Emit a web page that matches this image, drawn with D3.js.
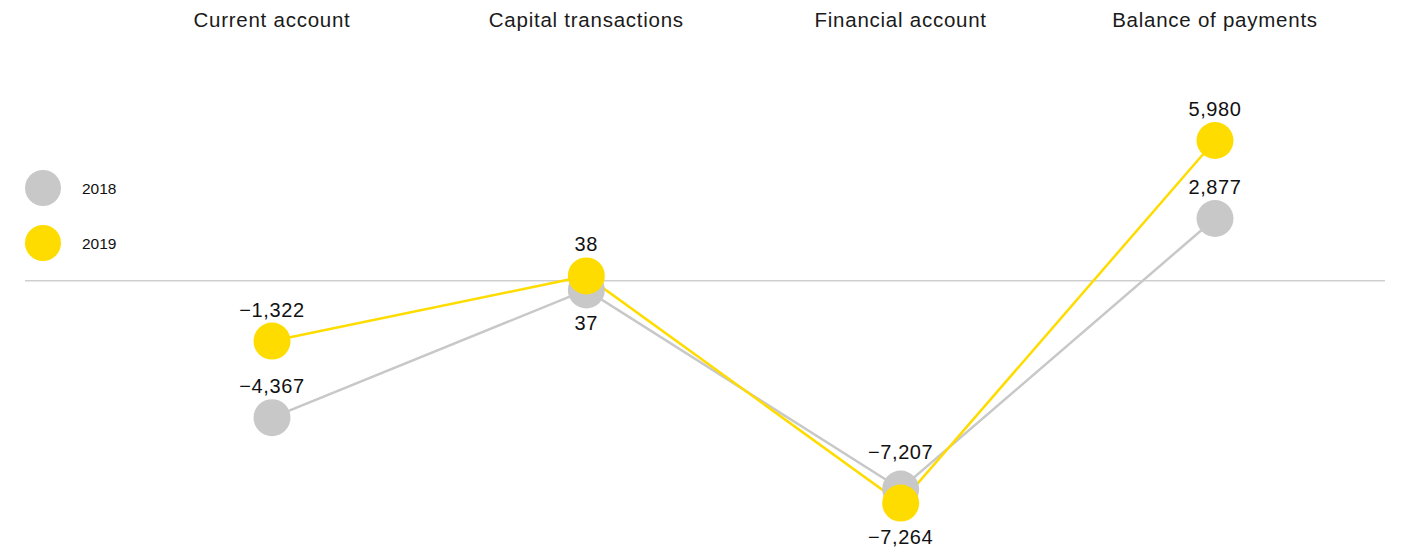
<!DOCTYPE html>
<meta charset="utf-8">

<!-- Load d3.js -->
<script src="https://d3js.org/d3.v7.min.js"></script>

<style>
  body {margin: 0; background: #fff;}
  svg {font-family: "Liberation Sans", Arial, sans-serif;}
  .header {font-size: 20.5px; fill: #1a1a1a; letter-spacing: 0.75px;}
  .value {font-size: 20px; fill: #111; letter-spacing: 0.6px;}
  .legend-label {font-size: 15.5px; fill: #111;}
</style>

<div id="my_dataviz"></div>

<script>

// data
var categories = ["Current account", "Capital transactions", "Financial account", "Balance of payments"];
var years = ["2018", "2019"];
var values2018 = [-4367, 37, -7207, 2877];
var values2019 = [-1322, 38, -7264, 5980];
var colors = ["#c8c8c8", "#ffdc00"];

var width = 1426, height = 551;
var r = 18.5;

var svg = d3.select("#my_dataviz")
  .append("svg")
    .attr("width", width)
    .attr("height", height);

// scales
var x = d3.scalePoint()
  .domain(categories)
  .range([272, 1215]);

var y = d3.scaleLinear()
  .domain([-8000, 6000])
  .range([492, 140]);

// negative values sit a bit further below the zero line
var gap = 17;
function yPos(v) { return y(v) + (v < 0 ? gap : 0); }

var fmt = d3.format(",");

// build the points for both years
var series = years.map(function(yr, k) {
  var vals = k === 0 ? values2018 : values2019;
  return vals.map(function(v, i) {
    return {cat: categories[i], year: yr, value: v, cy: yPos(v), side: "above", paired: false};
  });
});

// push the 2019 dot away when the two years overlap
var minSep = 14;
categories.forEach(function(c, i) {
  var a = series[0][i], b = series[1][i];
  if (Math.abs(a.cy - b.cy) < minSep) {
    var dir = b.value >= 0 ? -1 : 1;
    b.cy = a.cy + dir * minSep;
    b.side = dir < 0 ? "above" : "below";
    a.side = dir < 0 ? "below" : "above";
    a.paired = b.paired = true;
  }
});

// zero line
svg.append("line")
  .attr("x1", 25)
  .attr("x2", 1385)
  .attr("y1", y(0) - 10)
  .attr("y2", y(0) - 10)
  .attr("stroke", "#cfcfcf")
  .attr("stroke-width", 1.5);

// column headers
svg.selectAll(".header")
  .data(categories)
  .enter()
  .append("text")
    .attr("class", "header")
    .attr("x", function(d) { return x(d); })
    .attr("y", 27)
    .attr("text-anchor", "middle")
    .text(function(d) { return d; });

// lines
var line = d3.line()
  .x(function(d) { return x(d.cat); })
  .y(function(d) { return d.cy; });

svg.selectAll(".series-line")
  .data(series)
  .enter()
  .append("path")
    .attr("class", "series-line")
    .attr("d", line)
    .attr("fill", "none")
    .attr("stroke", function(d, k) { return colors[k]; })
    .attr("stroke-width", 2.5);

// circles
series.forEach(function(s, k) {
  svg.selectAll(".dot" + k)
    .data(s)
    .enter()
    .append("circle")
      .attr("class", "dot" + k)
      .attr("cx", function(d) { return x(d.cat); })
      .attr("cy", function(d) { return d.cy; })
      .attr("r", r)
      .style("fill", colors[k]);
});

// value labels
svg.selectAll(".value")
  .data(series[0].concat(series[1]))
  .enter()
  .append("text")
    .attr("class", "value")
    .attr("x", function(d) { return x(d.cat); })
    .attr("y", function(d) {
      if (d.side === "below") return d.cy + r + 8 + 14;
      return d.cy - r - (d.paired && d.year === "2018" ? 12 : 6);
    })
    .attr("text-anchor", "middle")
    .text(function(d) { return fmt(d.value); });

// legend
var legend = svg.selectAll(".legend")
  .data(years)
  .enter()
  .append("g")
    .attr("class", "legend")
    .attr("transform", function(d, i) { return "translate(43," + (188 + i * 55) + ")"; });

legend.append("circle")
  .attr("r", 18)
  .style("fill", function(d, i) { return colors[i]; });

legend.append("text")
  .attr("class", "legend-label")
  .attr("x", 39)
  .attr("y", 5.5)
  .text(function(d) { return d; });

</script>
